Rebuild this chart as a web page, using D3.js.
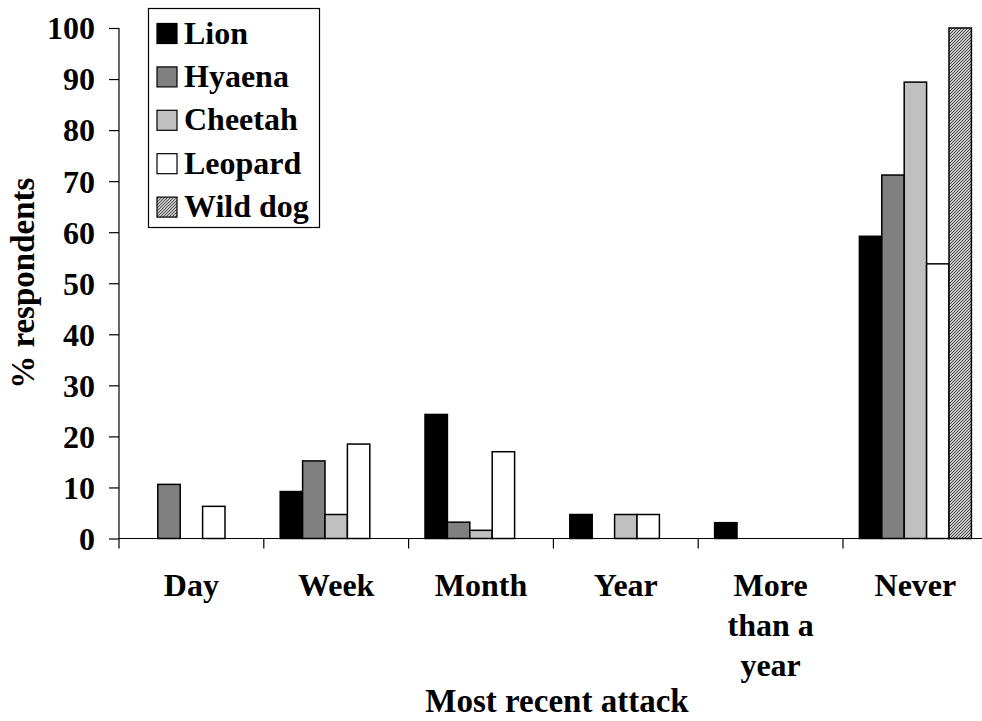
<!DOCTYPE html>
<html>
<head>
<meta charset="utf-8">
<script src="https://cdn.jsdelivr.net/npm/d3@7"></script>
<style>
  html, body { margin: 0; padding: 0; background: #fff; overflow: hidden; }
  svg { display: block; }
  text { font-family: "Liberation Serif", "Times New Roman", serif; font-weight: bold; fill: #000; }
</style>
</head>
<body>
<svg id="chart" width="982" height="721"></svg>
<script>
const categories = ["Day", "Week", "Month", "Year", "More than a year", "Never"];
const categoryLines = [["Day"], ["Week"], ["Month"], ["Year"], ["More", "than a", "year"], ["Never"]];
const species = ["Lion", "Hyaena", "Cheetah", "Leopard", "Wild dog"];
const lion    = [0,    9.2, 24.3, 4.7, 3.1, 59.2];
const hyaena  = [10.6, 15.2, 3.2, 0,   0,   71.2];
const cheetah = [0,    4.7,  1.6, 4.7, 0,   89.4];
const leopard = [6.3,  18.5, 17.0, 4.7, 0,  53.8];
const wildDog = [0,    0,    0,   0,   0,   100];
const yTicks = [0, 10, 20, 30, 40, 50, 60, 70, 80, 90, 100];
const seriesValues = [lion, hyaena, cheetah, leopard, wildDog];
const fills = ["#000000", "#808080", "#c0c0c0", "#ffffff", "url(#hatch)"];

const svg = d3.select("#chart");
const defs = svg.append("defs");
const pat = defs.append("pattern").attr("id", "hatch")
  .attr("patternUnits", "userSpaceOnUse").attr("width", 3).attr("height", 3);
pat.append("rect").attr("width", 3).attr("height", 3).attr("fill", "#ffffff");
pat.append("path").attr("d", "M-1,1 L1,-1 M0,3 L3,0 M2,4 L4,2")
  .attr("stroke", "#404040").attr("stroke-width", 1.1);

const left = 119, right = 987.8, baseY = 538.5, topY = 28;
const x0 = d3.scaleBand().domain(categories).range([left, right]).paddingInner(0).paddingOuter(0);
const bw = x0.bandwidth();
const x1 = d3.scaleBand().domain(species).range([16.4, bw - 16.4]).padding(0);
const y = d3.scaleLinear().domain([0, 100]).range([baseY, topY]);

const fontSize = 32;
const titleSize = 33;

// Y axis
const yAxis = d3.axisLeft(y).tickValues(yTicks).tickSize(10).tickPadding(14).tickFormat(d3.format("d"));
const gy = svg.append("g").attr("transform", `translate(${left},0)`).call(yAxis);
gy.select(".domain").remove();
gy.selectAll(".tick line").attr("stroke", "#000").attr("stroke-width", 1.2);
gy.selectAll(".tick text").attr("font-size", fontSize).attr("font-family", "Liberation Serif, serif")
  .attr("font-weight", "bold").attr("fill", "#000").attr("dy", "0.34em");
svg.append("line").attr("x1", left).attr("x2", left).attr("y1", y(100)).attr("y2", baseY + 10)
  .attr("stroke", "#000").attr("stroke-width", 1.2);

// Bars
const data = [];
categories.forEach((c, ci) => {
  species.forEach((s, si) => {
    data.push({ c, s, si, v: seriesValues[si][ci] });
  });
});
svg.append("g").selectAll("rect").data(data.filter(d => d.v > 0)).join("rect")
  .attr("x", d => x0(d.c) + x1(d.s))
  .attr("y", d => y(d.v))
  .attr("width", x1.bandwidth())
  .attr("height", d => baseY - y(d.v))
  .attr("fill", d => fills[d.si])
  .attr("stroke", "#000")
  .attr("stroke-width", 1.5);

// X axis
svg.append("line").attr("x1", left).attr("x2", right).attr("y1", baseY).attr("y2", baseY)
  .attr("stroke", "#000").attr("stroke-width", 1.2);
const boundaries = categories.map(c => x0(c)).concat([right]);
svg.append("g").selectAll("line").data(boundaries.slice(1)).join("line")
  .attr("x1", d => d).attr("x2", d => d).attr("y1", baseY).attr("y2", baseY + 10)
  .attr("stroke", "#000").attr("stroke-width", 1.2);

const xl = svg.append("g").selectAll("text").data(categories).join("text")
  .attr("text-anchor", "middle").attr("font-size", fontSize)
  .attr("transform", d => `translate(${x0(d) + bw / 2},596)`);
xl.each(function(d, i) {
  d3.select(this).selectAll("tspan").data(categoryLines[i]).join("tspan")
    .attr("x", 0).attr("y", (t, j) => j * 40).text(t => t);
});

// Axis titles
svg.append("text").attr("x", 557).attr("y", 712)
  .attr("text-anchor", "middle").attr("font-size", titleSize).text("Most recent attack");
svg.append("text").attr("transform", `translate(34,${(y(0) + y(100)) / 2}) rotate(-90)`)
  .attr("text-anchor", "middle").attr("font-size", titleSize).text("% respondents");

// Legend
const lg = svg.append("g");
lg.append("rect").attr("x", 148.5).attr("y", 8.5).attr("width", 171).attr("height", 219)
  .attr("fill", "#fff").attr("stroke", "#000").attr("stroke-width", 1.2);
const items = lg.selectAll("g.item").data(species).join("g").attr("class", "item")
  .attr("transform", (d, i) => `translate(0,${23.5 + i * 43.4})`);
items.append("rect").attr("x", 157).attr("y", 0).attr("width", 20).attr("height", 20)
  .attr("fill", (d, i) => fills[i]).attr("stroke", "#000").attr("stroke-width", 1.2);
items.append("text").attr("x", 184).attr("y", 20).attr("font-size", fontSize).text(d => d);
</script>
</body>
</html>
